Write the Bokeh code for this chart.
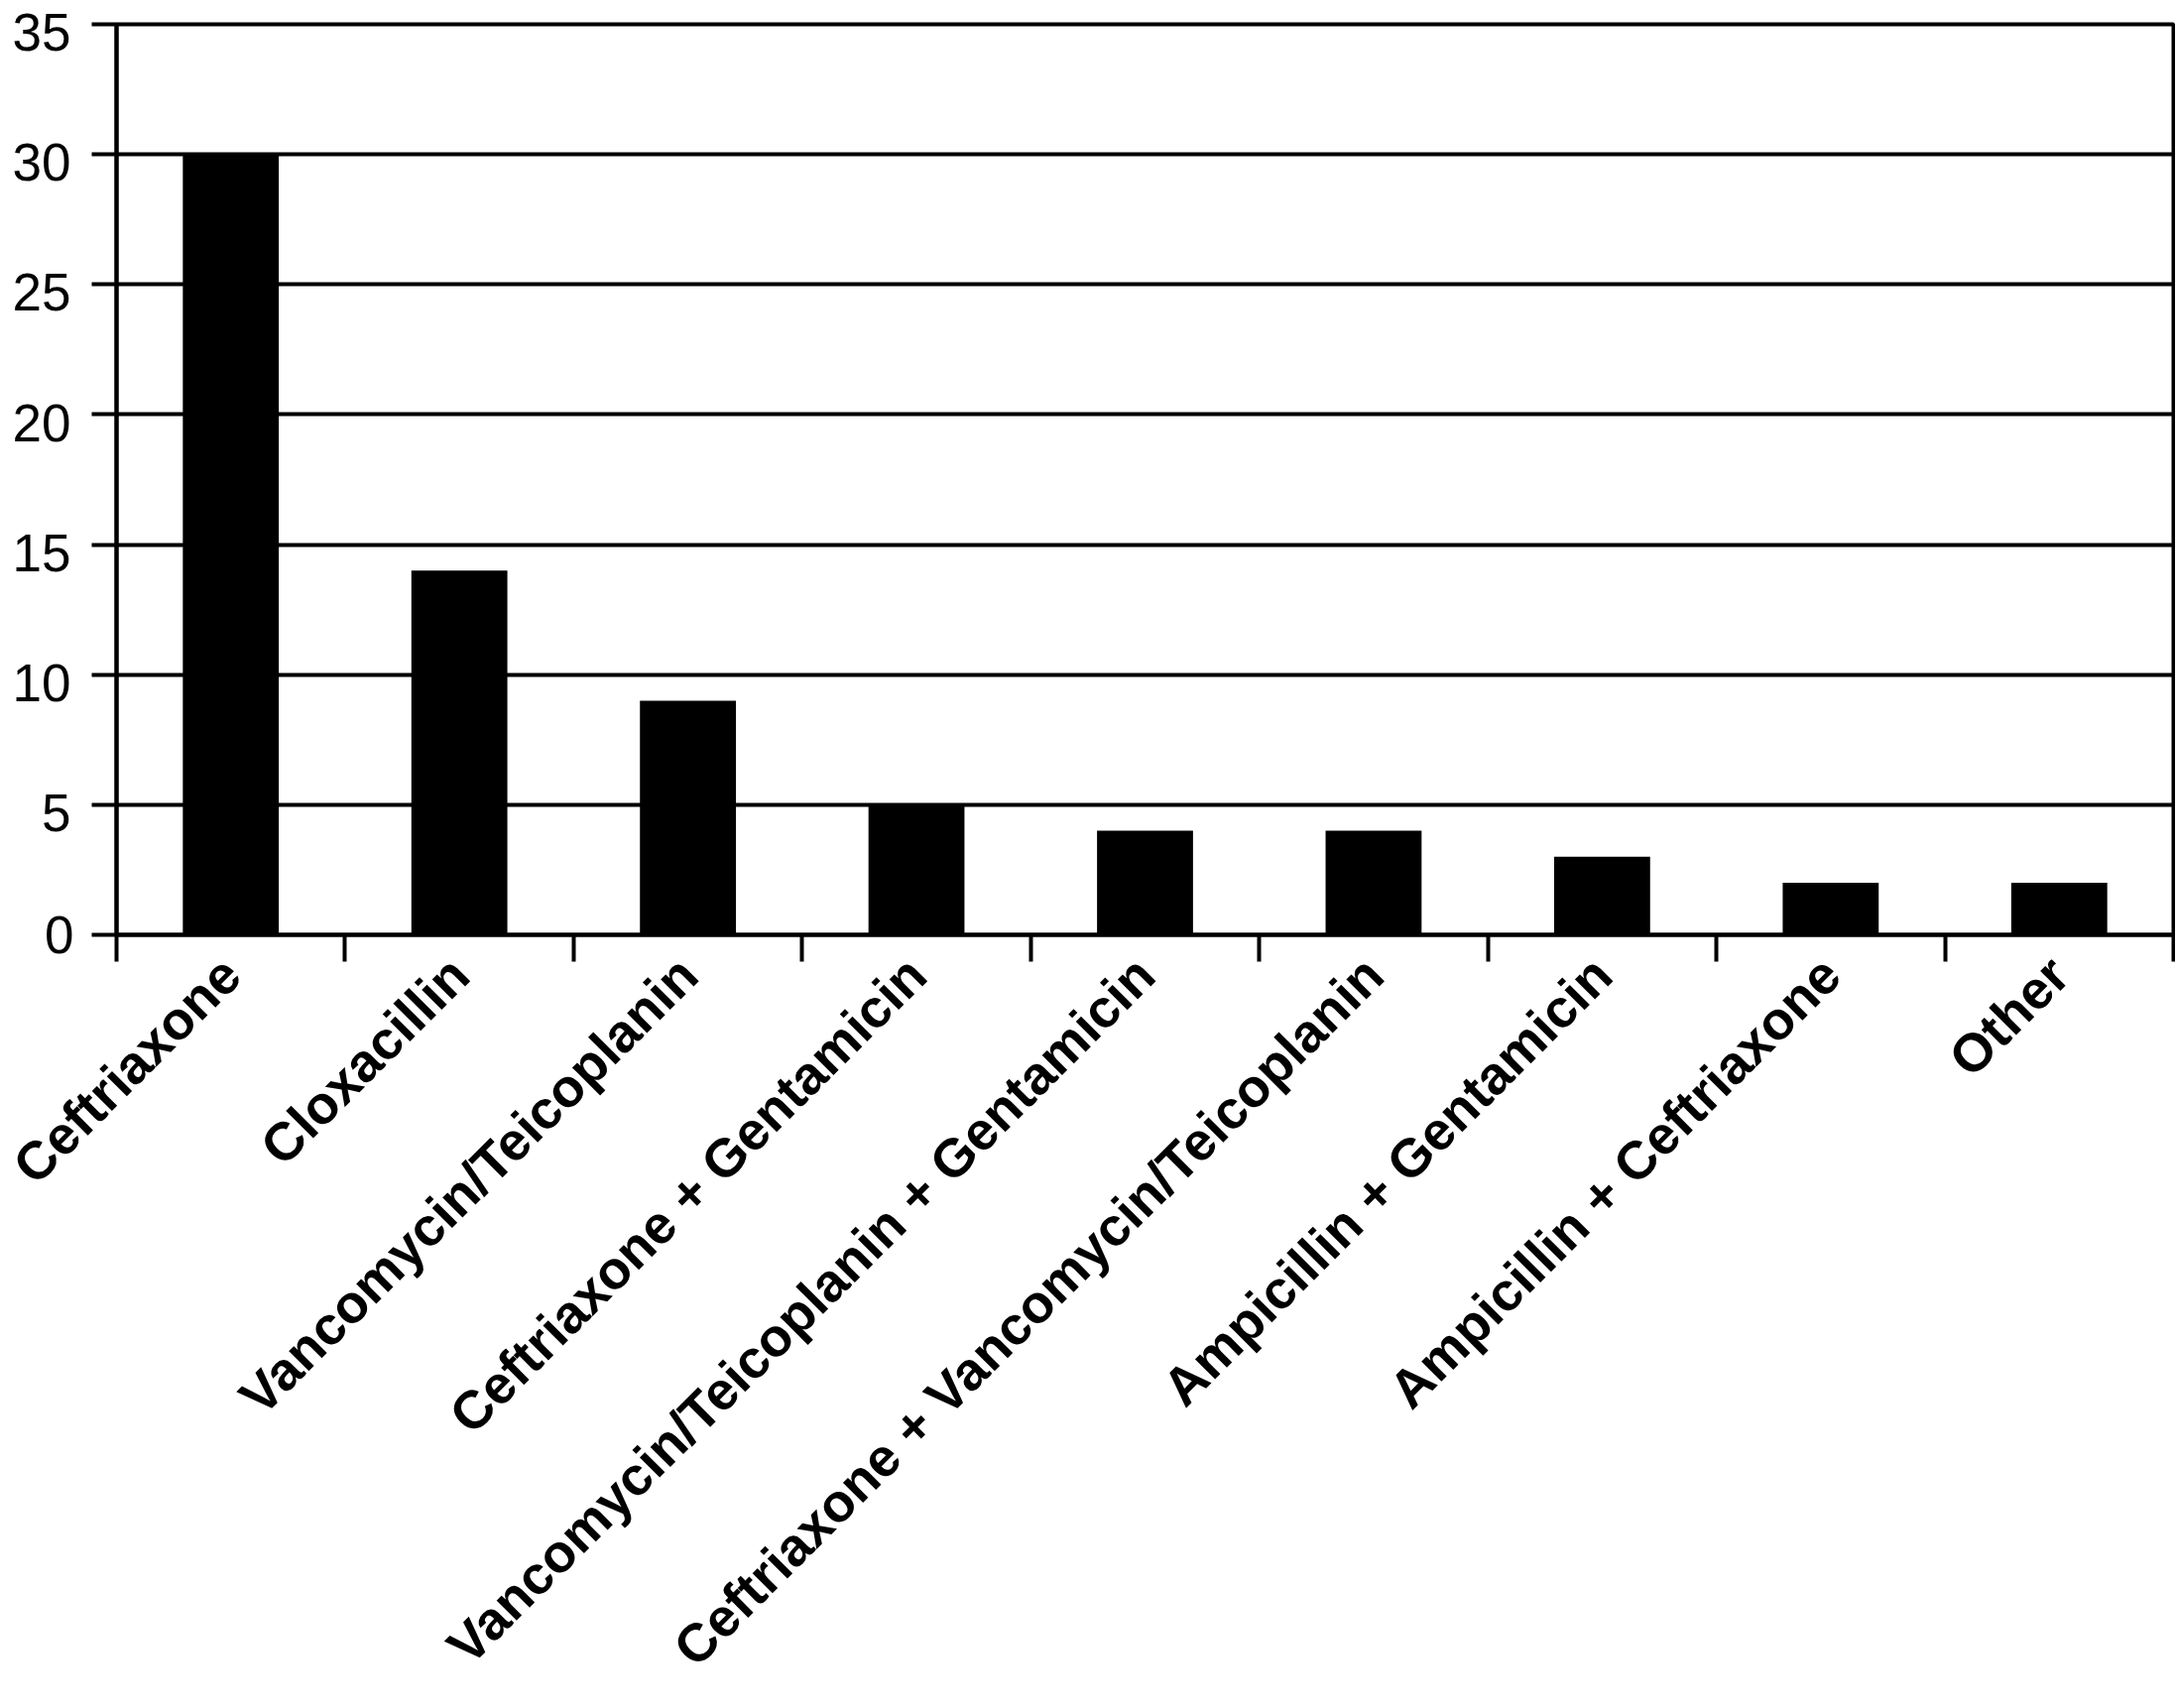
import math
from bokeh.plotting import figure
from bokeh.models import FixedTicker, Range1d, LinearAxis
from bokeh.embed import file_html
from bokeh.resources import INLINE

categories = [
    "Ceftriaxone",
    "Cloxacillin",
    "Vancomycin/Teicoplanin",
    "Ceftriaxone + Gentamicin",
    "Vancomycin/Teicoplanin + Gentamicin",
    "Ceftriaxone + Vancomycin/Teicoplanin",
    "Ampicillin + Gentamicin",
    "Ampicillin + Ceftriaxone",
    "Other",
]
counts = [30, 14, 9, 5, 4, 4, 3, 2, 2]
y_ticks = [0, 5, 10, 15, 20, 25, 30, 35]

n = len(categories)
centers = [i + 0.5 for i in range(n)]
bounds = list(range(n + 1))
y_max = 35
label_shift = 0.3125  # upper tick labels sit slightly below their gridlines

W, H = 2193, 1721
p = figure(width=W, height=H, output_backend="svg", toolbar_location=None,
           x_range=Range1d(0, n), y_range=Range1d(0, y_max),
           min_border_left=117, min_border_right=2, min_border_top=24,
           min_border_bottom=H - 942)

p.vbar(x=centers, top=counts, width=0.42, fill_color="black", line_color=None)

p.outline_line_color = "black"
p.outline_line_width = 4
p.background_fill_color = "white"
p.border_fill_color = "white"

# main y axis: line, all tick marks, and the "0" label
yax = p.yaxis[0]
yax.ticker = FixedTicker(ticks=y_ticks[:1], minor_ticks=y_ticks)
yax.axis_line_width = 4
yax.axis_line_color = "black"
yax.major_tick_line_color = None
yax.major_tick_out = 25
yax.major_tick_in = 0
yax.minor_tick_line_color = "black"
yax.minor_tick_line_width = 4
yax.minor_tick_out = 25
yax.minor_tick_in = 0
yax.major_label_text_font = "Liberation Sans"
yax.major_label_text_font_size = "53px"
yax.major_label_text_color = "black"
yax.major_label_standoff = 18

# label axis for the other y values, right-aligned with the "0"
p.extra_y_ranges = {"lab": Range1d(label_shift, y_max + label_shift)}
lab = LinearAxis(y_range_name="lab", ticker=FixedTicker(ticks=y_ticks[1:]))
lab.axis_line_color = None
lab.major_tick_line_color = None
lab.minor_tick_line_color = None
lab.major_tick_out = 0
lab.major_tick_in = 0
lab.major_label_text_font = "Liberation Sans"
lab.major_label_text_font_size = "53px"
lab.major_label_text_color = "black"
lab.major_label_standoff = -29
p.add_layout(lab, "left")

p.ygrid.ticker = FixedTicker(ticks=y_ticks)
p.ygrid.grid_line_color = "black"
p.ygrid.grid_line_width = 4
p.xgrid.grid_line_color = None

# x axis: boundary ticks as minor ticks, labels at centers
p.xaxis.ticker = FixedTicker(ticks=centers, minor_ticks=bounds)
p.xaxis.major_label_overrides = {c: t for c, t in zip(centers, categories)}
p.xaxis.axis_line_width = 4
p.xaxis.axis_line_color = "black"
p.xaxis.major_tick_line_color = None
p.xaxis.major_tick_out = 27
p.xaxis.major_tick_in = 0
p.xaxis.minor_tick_line_color = "black"
p.xaxis.minor_tick_line_width = 4
p.xaxis.minor_tick_out = 27
p.xaxis.minor_tick_in = 0
p.xaxis.major_label_orientation = math.pi / 4
p.xaxis.major_label_text_font = "Liberation Sans"
p.xaxis.major_label_text_font_style = "bold"
p.xaxis.major_label_text_font_size = "54px"
p.xaxis.major_label_text_color = "black"
p.xaxis.major_label_standoff = 4

open("out.html", "w").write(file_html(p, INLINE))
